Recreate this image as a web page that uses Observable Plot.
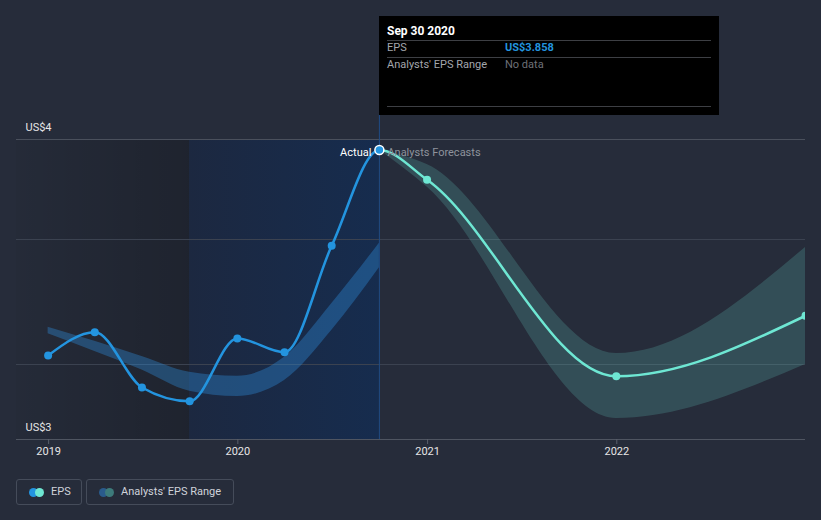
<!DOCTYPE html>
<html>
<head>
<meta charset="utf-8">
<script src="https://cdn.jsdelivr.net/npm/d3@7"></script>
<script src="https://cdn.jsdelivr.net/npm/@observablehq/plot@0.6"></script>
<style>
  html, body { margin: 0; padding: 0; background: #262c3a; width: 821px; height: 520px; overflow: hidden; font-family: Roboto, "Noto Sans", sans-serif; }
  #wrap { position: relative; width: 821px; height: 520px; }
  #chart { position: absolute; left: 0; top: 0; }
  #tip { position: absolute; left: 379px; top: 16px; width: 340px; height: 99px; background: #000; }
  #tip .t { position: absolute; white-space: nowrap; font-size: 11px; line-height: 14px; }
  #tip .hr { position: absolute; left: 8px; width: 324px; height: 1px; background: #3d3f44; }
  .leg { position: absolute; top: 479px; height: 26px; border: 1px solid #454c5a; border-radius: 3px; box-sizing: border-box; }
  .leg .c { position: absolute; top: 8px; width: 9px; height: 9px; border-radius: 50%; }
  .leg .l { position: absolute; top: 5px; font-size: 11px; line-height: 14px; color: #cfd3da; white-space: nowrap; }
</style>
</head>
<body>
<div id="wrap">
  <div id="chart"></div>
  <div id="tip">
    <div class="t" style="left:8px;top:8px;color:#fff;font-weight:bold;font-size:12px;">Sep 30 2020</div>
    <div class="hr" style="top:24px;"></div>
    <div class="t" style="left:8px;top:25px;color:#a3a6ad;">EPS</div>
    <div class="t" id="tipVal" style="left:126px;top:25px;color:#2394df;font-weight:bold;"></div>
    <div class="hr" style="top:41px;"></div>
    <div class="t" style="left:8px;top:42px;color:#a3a6ad;">Analysts' EPS Range</div>
    <div class="t" style="left:126px;top:42px;color:#6e7178;">No data</div>
    <div class="hr" style="top:90px;"></div>
  </div>
  <div class="leg" style="left:16px;width:66px;">
    <div class="c" style="left:12px;background:#2394df;"></div>
    <div class="c" style="left:18px;background:#6ee7d3;"></div>
    <div class="l" style="left:34px;">EPS</div>
  </div>
  <div class="leg" style="left:86px;width:148px;">
    <div class="c" style="left:12px;background:#2a5b8c;"></div>
    <div class="c" style="left:18px;background:#3d7b7b;"></div>
    <div class="l" style="left:34px;">Analysts' EPS Range</div>
  </div>
</div>
<script>
// ---- data ----
const xDomain = ["2018-10-31", "2022-12-31"];
const yDomain = [2.7, 3.9];
const gridValues = [3.0, 3.5];
const yLabelValues = [3.9, 2.7];
const yLabelTexts = ["US$4", "US$3"];
const yearTicks = ["2019-01-01", "2020-01-01", "2021-01-01", "2022-01-01"];

const epsDates = ["2018-12-31", "2019-03-31", "2019-06-30", "2019-09-30", "2019-12-31", "2020-03-31", "2020-06-30", "2020-09-30"];
const epsValues = [3.036, 3.129, 2.908, 2.853, 3.104, 3.049, 3.475, 3.858];
const pastRangeLow  = [3.123, 3.052, 2.978, 2.893, 2.872, 2.936, 3.136, 3.387];
const pastRangeHigh = [3.149, 3.093, 3.032, 2.969, 2.953, 3.029, 3.243, 3.485];

const fcDates = ["2020-09-30", "2020-12-31", "2021-12-31", "2022-12-31"];
const fcValues = [3.858, 3.739, 2.953, 3.195];
const fcLow  = [3.858, 3.710, 2.784, 3.000];
const fcHigh = [3.858, 3.800, 3.044, 3.468];

const regionPastStart = "2018-10-31";
const regionYearStart = "2019-09-30";
const regionEnd = "2020-09-30";
const markerTop = 4.0;
const pointLabels = ["Actual", "Analysts Forecasts"];
const tooltipValue = "US$3.858";

// ---- build ----
const parse = d3.utcParse("%Y-%m-%d");
const eps = epsDates.map((d, i) => ({date: parse(d), value: epsValues[i]}));
const past = epsDates.map((d, i) => ({date: parse(d), low: pastRangeLow[i], high: pastRangeHigh[i]}));
const fc = fcDates.map((d, i) => ({date: parse(d), value: fcValues[i], low: fcLow[i], high: fcHigh[i]}));
const combined = eps.concat(fc.slice(1));
const lastEps = eps[eps.length - 1];
const yLabels = yLabelValues.map((v, i) => ({v, label: yLabelTexts[i]}));

document.getElementById("tipVal").textContent = tooltipValue;

const plot = Plot.plot({
  width: 821,
  height: 470,
  marginTop: 139,
  marginBottom: 31,
  marginLeft: 16,
  marginRight: 16,
  style: {background: "transparent", color: "#e6e6e6", fontFamily: "Roboto, 'Noto Sans', sans-serif", fontSize: "11px"},
  x: {type: "utc", domain: xDomain.map(parse)},
  y: {domain: yDomain, axis: null},
  marks: [
    Plot.rect([{a: parse(regionPastStart), b: parse(regionYearStart)}], {x1: "a", x2: "b", y1: yDomain[0], y2: yDomain[1], fill: "url(#gradA)"}),
    Plot.rect([{a: parse(regionYearStart), b: parse(regionEnd)}], {x1: "a", x2: "b", y1: yDomain[0], y2: yDomain[1], fill: "url(#gradB)"}),
    Plot.ruleY(gridValues, {stroke: "#3b4250", strokeWidth: 1}),
    Plot.ruleY([yDomain[1]], {stroke: "#4a505c", strokeWidth: 1}),
    Plot.ruleY([yDomain[0]], {stroke: "#4f5561", strokeWidth: 1}),
    Plot.ruleX([parse(regionEnd)], {y1: yDomain[0], y2: markerTop, stroke: "#1f4c86", strokeWidth: 1}),
    Plot.areaY(past, {x: "date", y1: "low", y2: "high", fill: "#2f8fe0", fillOpacity: 0.36, curve: "monotone-x"}),
    Plot.areaY(fc, {x: "date", y1: "low", y2: "high", fill: "#6ee7d3", fillOpacity: 0.19, curve: "monotone-x", clip: true}),
    Plot.line(combined, {x: "date", y: "value", stroke: "url(#lineGrad)", strokeWidth: 2.5, curve: "monotone-x", clip: true}),
    Plot.dot(fc.slice(1), {x: "date", y: "value", r: 4, fill: "#6ee7d3", clip: true}),
    Plot.dot(eps.slice(0, -1), {x: "date", y: "value", r: 4, fill: "#2394df"}),
    Plot.dot([lastEps], {x: "date", y: "value", r: 4.5, fill: "#2394df", stroke: "#ffffff", strokeWidth: 1.5}),
    Plot.text([lastEps], {x: "date", y: "value", text: () => pointLabels[0], textAnchor: "end", dx: -8, dy: 2, fill: "#ffffff", fontSize: 11}),
    Plot.text([lastEps], {x: "date", y: "value", text: () => pointLabels[1], textAnchor: "start", dx: 8, dy: 2, fill: "#8e939c", fontSize: 11}),
    Plot.text(yLabels, {y: "v", text: "label", frameAnchor: "left", dx: 9, dy: -12, textAnchor: "start", fill: "#e6e6e6", fontSize: 11}),
    Plot.axisX({ticks: yearTicks.map(parse), tickFormat: d3.utcFormat("%Y"), tickSize: 5, tickPadding: 3, stroke: "#5a606c", fill: "#e6e6e6", fontSize: 11})
  ]
});

// gradient definitions
const NS = "http://www.w3.org/2000/svg";
const defs = document.createElementNS(NS, "defs");
function grad(id, stops, user) {
  const g = document.createElementNS(NS, "linearGradient");
  g.setAttribute("id", id);
  if (user) {
    g.setAttribute("gradientUnits", "userSpaceOnUse");
    g.setAttribute("x1", "0"); g.setAttribute("x2", String(plot.getAttribute("width") || 821));
  } else {
    g.setAttribute("x1", "0"); g.setAttribute("x2", "1");
  }
  g.setAttribute("y1", "0"); g.setAttribute("y2", "0");
  for (const [off, col, op] of stops) {
    const s = document.createElementNS(NS, "stop");
    s.setAttribute("offset", off);
    s.setAttribute("stop-color", col);
    s.setAttribute("stop-opacity", op);
    g.appendChild(s);
  }
  defs.appendChild(g);
}
grad("gradA", [["0", "#000000", 0.03], ["1", "#000000", 0.2]]);
grad("gradB", [["0", "#1c2840", 1], ["1", "#162c4e", 1]]);
const splitX = plot.scale("x").apply(parse(regionEnd)) / 821;
grad("lineGrad", [["0", "#2394df", 1], [String(splitX), "#2394df", 1], [String(splitX), "#6ee7d3", 1], ["1", "#6ee7d3", 1]], true);
plot.insertBefore(defs, plot.firstChild);

document.getElementById("chart").appendChild(plot);
</script>
</body>
</html>
